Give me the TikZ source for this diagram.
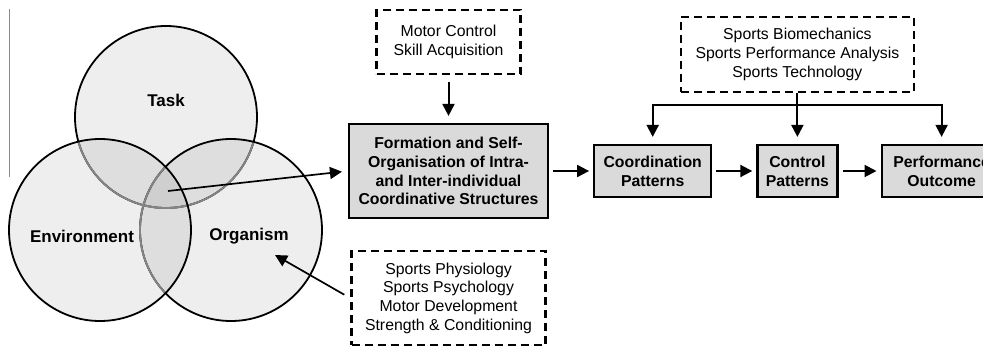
\documentclass[tikz,border=0pt]{standalone}
\usepackage{fontspec}
\setmainfont{Liberation Sans}
\usetikzlibrary{arrows.meta,positioning}
\definecolor{VennLine}{HTML}{858585}
\definecolor{BoxFill}{HTML}{DADADA}
\definecolor{StrayLine}{HTML}{8C8C8C}
\tikzset{
  solidbox/.style={draw=black,line width=2.2pt,fill=BoxFill,align=center,inner sep=0pt,font=\bfseries\fontsize{15.8}{18.8}\selectfont},
  dashbox/.style={draw=black,line width=2.2pt,dash pattern=on 8pt off 5pt,align=center,inner sep=0pt,font=\fontsize{15.8}{18.7}\selectfont},
  flowarrow/.style={-{Triangle[length=12pt,width=12pt]},line width=2pt,shorten <=4pt,shorten >=4pt},
  vennlabel/.style={font=\bfseries\fontsize{17}{20}\selectfont},
  venncircle/.style={line width=1.8pt},
  vennfill/.style={fill=black,fill opacity=0.065}
}

\begin{document}
\begin{tikzpicture}[x=1pt,y=-1pt]
\useasboundingbox (0,0) rectangle (983,346);
\clip (0,0) rectangle (983,346);
\draw[line width=1.2pt,StrayLine] (9.5,9) -- (9.5,177);

% Constraints: task, organism, environment
\coordinate (ctask) at (166,117);
\coordinate (corg) at (231,230);
\coordinate (cenv) at (100,230);
\fill[vennfill] (ctask) circle[radius=91pt];
\fill[vennfill] (corg) circle[radius=91pt];
\fill[vennfill] (cenv) circle[radius=91pt];
\draw[venncircle] (ctask) circle[radius=91pt];
\begin{scope}
  \clip (corg) circle[radius=91pt];
  \draw[venncircle,VennLine] (ctask) circle[radius=91pt];
\end{scope}
\draw[venncircle] (corg) circle[radius=91pt];
\begin{scope}
  \clip (cenv) circle[radius=91pt];
  \draw[venncircle,VennLine] (ctask) circle[radius=91pt];
  \draw[venncircle,VennLine] (corg) circle[radius=91pt];
\end{scope}
\draw[venncircle] (cenv) circle[radius=91pt];
\node[vennlabel] (task) at (166,100) {Task};
\node[vennlabel] (env) at (82,236) {Environment};
\node[vennlabel] (org) at (249,236) {Organism};
\coordinate (core) at (168,191);
\coordinate (orgin) at (275,255);

% Main lane
\node[solidbox,minimum width=199pt,minimum height=94pt] (form) at (448.5,171)
  {Formation and Self-\\Organisation of Intra-\\and Inter-individual\\Coordinative Structures};
\node[solidbox,right=44pt of form,minimum width=117pt,minimum height=52pt] (coord) {Coordination\\Patterns};
\node[solidbox,right=44pt of coord,minimum width=80pt,minimum height=52pt] (ctrl) {Control\\Patterns};
\node[solidbox,right=42pt of ctrl,minimum width=120pt,minimum height=52pt] (perf) {Performance\\Outcome};
\draw[flowarrow] (form.east)--(coord.west);
\draw[flowarrow] (coord.east)--(ctrl.west);
\draw[flowarrow] (ctrl.east)--(perf.west);

% Disciplines
\node[dashbox,above=48pt of form,minimum width=144pt,minimum height=64pt] (motor) {Motor Control\\Skill Acquisition};
\node[dashbox,above=51pt of ctrl,minimum width=233pt,minimum height=75pt] (biomech) {Sports Biomechanics\\Sports Performance Analysis\\Sports Technology};
\node[dashbox,below=31pt of form,minimum width=194pt,minimum height=94pt] (physio) {Sports Physiology\\Sports Psychology\\Motor Development\\Strength \& Conditioning};
\draw[flowarrow,shorten <=7pt,shorten >=7pt] (motor.south)--(form.north);
\coordinate[below=12pt of biomech.south] (split);
\draw[line width=2pt] (biomech.south)--(split);
\draw[flowarrow,shorten <=0pt,shorten >=7pt] (split) -| (coord.north);
\draw[flowarrow,shorten <=0pt,shorten >=7pt] (split) -- (ctrl.north);
\draw[flowarrow,shorten <=0pt,shorten >=7pt] (split) -| (perf.north);
\draw[flowarrow,line width=1.7pt,shorten <=0pt,shorten >=6pt] (core)--(form.west);
\draw[flowarrow,line width=1.7pt,shorten <=7pt,shorten >=0pt] (physio.west)--(orgin);
\end{tikzpicture}
\end{document}
